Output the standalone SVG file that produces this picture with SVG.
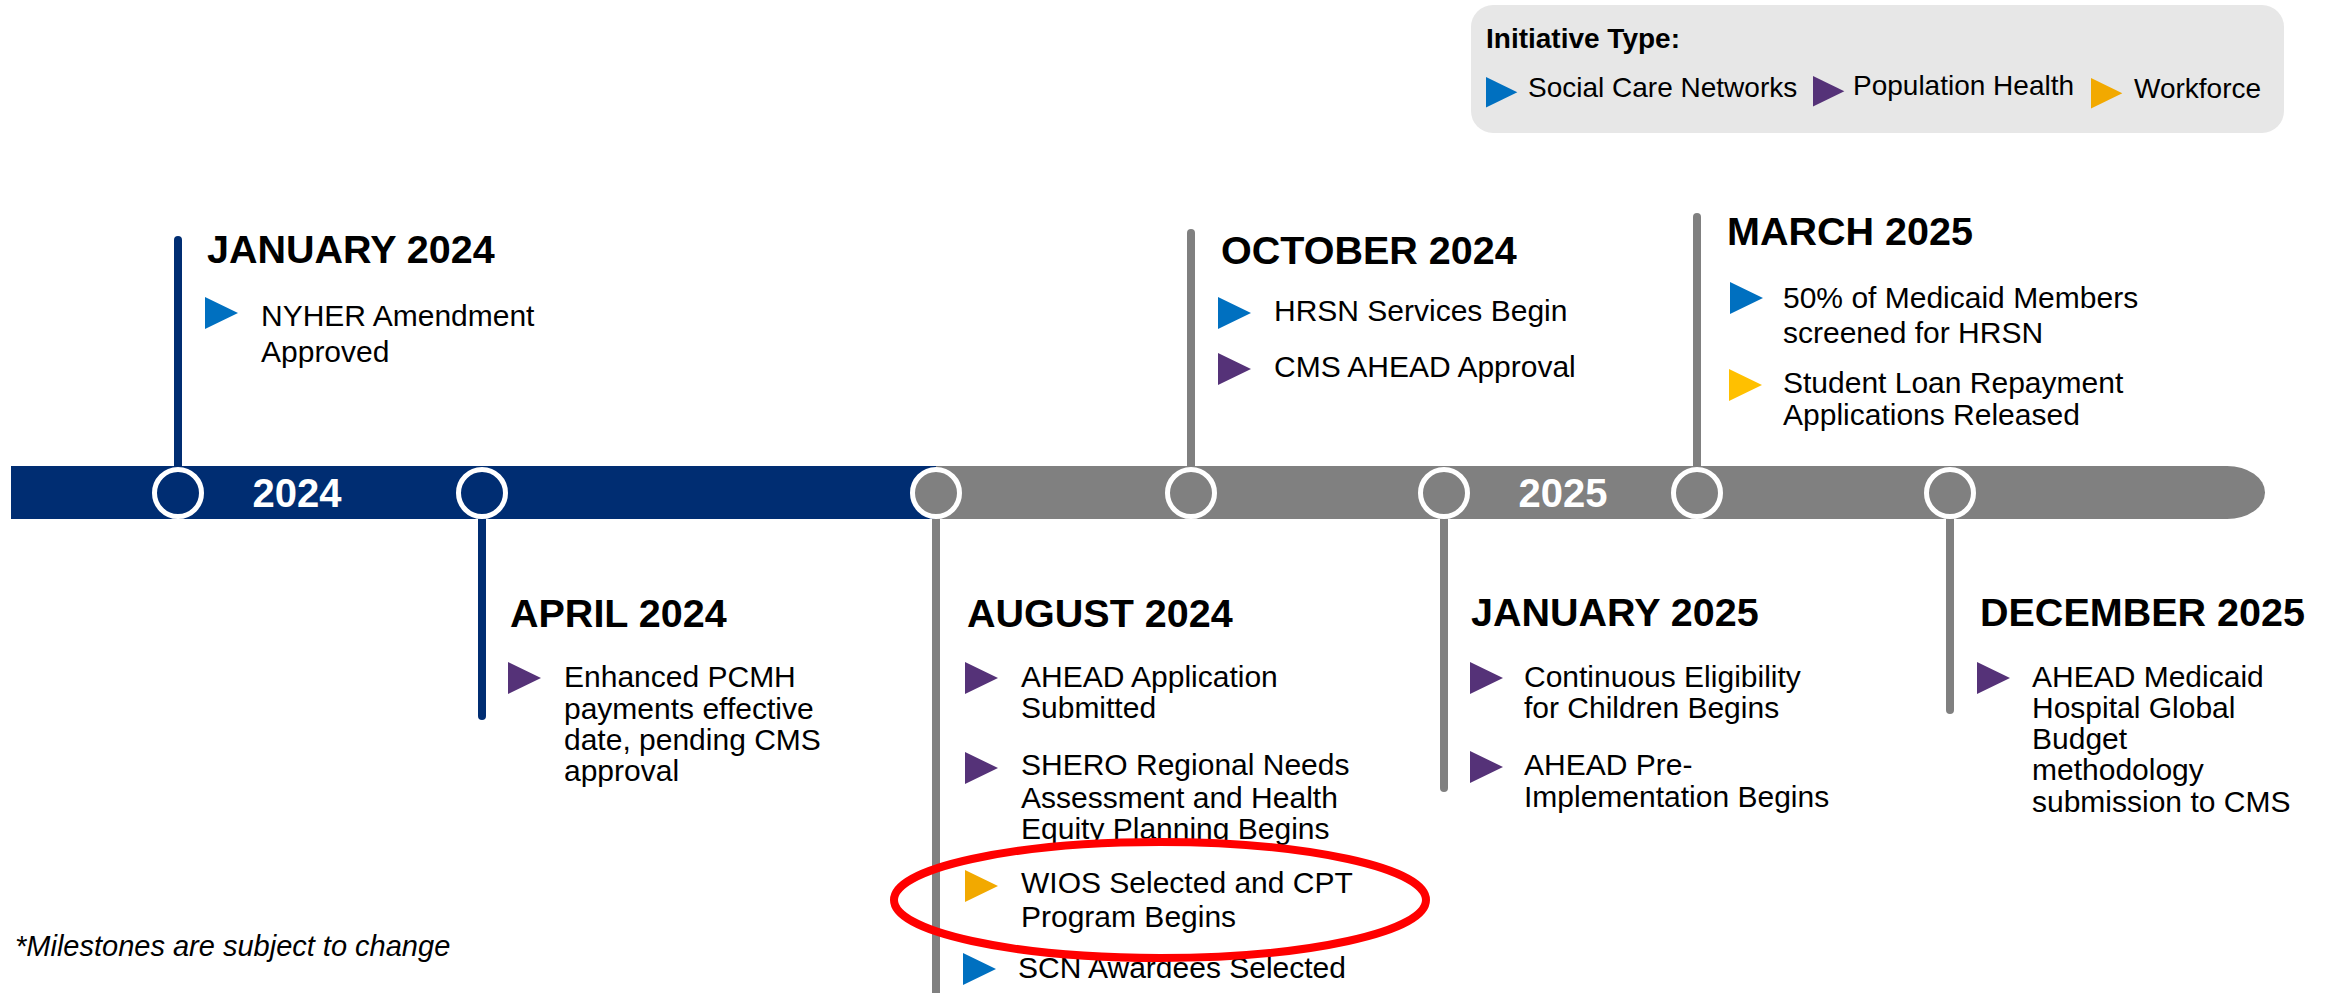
<svg xmlns="http://www.w3.org/2000/svg" xmlns:xlink="http://www.w3.org/1999/xlink" width="2335" height="993" viewBox="0 0 2335 993">
<style>
text{font-family:"Liberation Sans",Arial,sans-serif;fill:#000}
.t{font-size:39.5px;font-weight:bold}
.b{font-size:30px}
.lg{font-size:28px}
.yr{font-size:40px;font-weight:bold;fill:#fff;text-anchor:middle}
.stemB{stroke:#002D72;stroke-width:8;stroke-linecap:round}
.stemG{stroke:#808080;stroke-width:8;stroke-linecap:round}
.cB{fill:#002D72;stroke:#fff;stroke-width:5}
.cG{fill:#808080;stroke:#fff;stroke-width:5}
.sc{fill:#0070C0}.ph{fill:#553278}.wf{fill:#F2A900}.wy{fill:#FFC000}
</style>
<defs>
<path id="tri" d="M0,0 L33,16 L0,32 Z"/>
</defs>
<rect width="2335" height="993" fill="#fff"/>

<g id="legend">
<rect x="1471" y="5" width="813" height="128" rx="22" fill="#E7E7E7"/>
<text class="lg" x="1486" y="48" font-weight="bold">Initiative Type:</text>
<use xlink:href="#tri" class="sc" transform="translate(1486,77) scale(0.95)"/>
<text class="lg" x="1528" y="97">Social Care Networks</text>
<use xlink:href="#tri" class="ph" transform="translate(1813,76) scale(0.95)"/>
<text class="lg" x="1853" y="95">Population Health</text>
<use xlink:href="#tri" class="wf" transform="translate(2091,78) scale(0.95)"/>
<text class="lg" x="2134" y="98">Workforce</text>
</g>

<g id="connectors">
<line class="stemB" x1="178" y1="240" x2="178" y2="470"/>
<line class="stemB" x1="482" y1="515" x2="482" y2="716"/>
<line class="stemG" x1="936" y1="515" x2="936" y2="1000"/>
<line class="stemG" x1="1191" y1="233" x2="1191" y2="470"/>
<line class="stemG" x1="1444" y1="515" x2="1444" y2="788"/>
<line class="stemG" x1="1697" y1="217" x2="1697" y2="470"/>
<line class="stemG" x1="1950" y1="515" x2="1950" y2="710"/>
</g>

<g id="timeline-bar">
<rect x="11" y="466" width="925" height="53" fill="#002D72"/>
<path d="M936,466 H2227 A38,26.5 0 0 1 2227,519 H936 Z" fill="#808080"/>
<circle class="cB" cx="178" cy="493" r="23.5"/>
<circle class="cB" cx="482" cy="493" r="23.5"/>
<circle class="cG" cx="936" cy="493" r="23.5"/>
<circle class="cG" cx="1191" cy="493" r="23.5"/>
<circle class="cG" cx="1444" cy="493" r="23.5"/>
<circle class="cG" cx="1697" cy="493" r="23.5"/>
<circle class="cG" cx="1950" cy="493" r="23.5"/>
<text class="yr" x="297" y="507">2024</text>
<text class="yr" x="1563" y="507">2025</text>
</g>

<g id="jan-2024">
<text class="t" x="207" y="263">JANUARY 2024</text>
<use xlink:href="#tri" class="sc" x="205" y="297"/>
<text class="b" x="261" y="326">NYHER Amendment</text>
<text class="b" x="261" y="362">Approved</text>
</g>

<g id="apr-2024">
<text class="t" x="510" y="627">APRIL 2024</text>
<use xlink:href="#tri" class="ph" x="508" y="662"/>
<text class="b" x="564" y="687">Enhanced PCMH</text>
<text class="b" x="564" y="719">payments effective</text>
<text class="b" x="564" y="750">date, pending CMS</text>
<text class="b" x="564" y="781">approval</text>
</g>

<g id="aug-2024">
<text class="t" x="967" y="627">AUGUST 2024</text>
<use xlink:href="#tri" class="ph" x="965" y="662"/>
<text class="b" x="1021" y="687">AHEAD Application</text>
<text class="b" x="1021" y="718">Submitted</text>
<use xlink:href="#tri" class="ph" x="965" y="752"/>
<text class="b" x="1021" y="775">SHERO Regional Needs</text>
<text class="b" x="1021" y="808">Assessment and Health</text>
<text class="b" x="1021" y="839">Equity Planning Begins</text>
<use xlink:href="#tri" class="wf" x="965" y="870"/>
<text class="b" x="1021" y="893">WIOS Selected and CPT</text>
<text class="b" x="1021" y="927">Program Begins</text>
<use xlink:href="#tri" class="sc" x="963" y="953"/>
<text class="b" x="1018" y="978">SCN Awardees Selected</text>
</g>

<g id="oct-2024">
<text class="t" x="1221" y="264">OCTOBER 2024</text>
<use xlink:href="#tri" class="sc" x="1218" y="297"/>
<text class="b" x="1274" y="321">HRSN Services Begin</text>
<use xlink:href="#tri" class="ph" x="1218" y="353"/>
<text class="b" x="1274" y="377">CMS AHEAD Approval</text>
</g>

<g id="jan-2025">
<text class="t" x="1471" y="626">JANUARY 2025</text>
<use xlink:href="#tri" class="ph" x="1470" y="662"/>
<text class="b" x="1524" y="687">Continuous Eligibility</text>
<text class="b" x="1524" y="718">for Children Begins</text>
<use xlink:href="#tri" class="ph" x="1470" y="751"/>
<text class="b" x="1524" y="775">AHEAD Pre-</text>
<text class="b" x="1524" y="807">Implementation Begins</text>
</g>

<g id="mar-2025">
<text class="t" x="1727" y="245">MARCH 2025</text>
<use xlink:href="#tri" class="sc" x="1730" y="282"/>
<text class="b" x="1783" y="308">50% of Medicaid Members</text>
<text class="b" x="1783" y="343">screened for HRSN</text>
<use xlink:href="#tri" class="wy" x="1729" y="369"/>
<text class="b" x="1783" y="393">Student Loan Repayment</text>
<text class="b" x="1783" y="425">Applications Released</text>
</g>

<g id="dec-2025">
<text class="t" x="1980" y="626">DECEMBER 2025</text>
<use xlink:href="#tri" class="ph" x="1977" y="662"/>
<text class="b" x="2032" y="687">AHEAD Medicaid</text>
<text class="b" x="2032" y="718">Hospital Global</text>
<text class="b" x="2032" y="749">Budget</text>
<text class="b" x="2032" y="780">methodology</text>
<text class="b" x="2032" y="812">submission to CMS</text>
</g>

<g id="highlight">
<ellipse cx="1160" cy="900" rx="266" ry="58" fill="none" stroke="#FF0000" stroke-width="8"/>
</g>

<g id="footnote">
<text x="15" y="956" font-size="29" font-style="italic">*Milestones are subject to change</text>
</g>
</svg>
